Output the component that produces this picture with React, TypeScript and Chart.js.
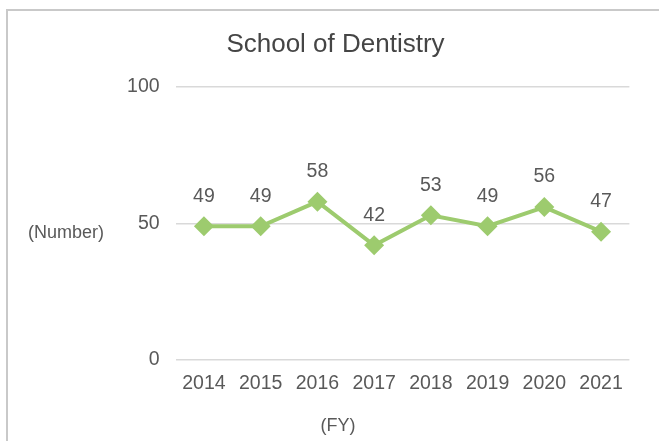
import React, { useEffect, useRef } from "react";
import { Chart, registerables } from "chart.js";

Chart.register(...registerables);

const title = "School of Dentistry";
const categories = ["2014", "2015", "2016", "2017", "2018", "2019", "2020", "2021"];
const values = [49, 49, 58, 42, 53, 49, 56, 47];
const yTicks = [0, 50, 100];
const yAxisTitle = "(Number)";
const xAxisTitle = "(FY)";

const FONT = "'Liberation Sans', Arial, sans-serif";
const TEXT = "#595959";
const GREEN = "#9dcb6e";

export default function App() {
  const ref = useRef<HTMLCanvasElement | null>(null);

  useEffect(() => {
    const canvas = ref.current;
    if (!canvas) return;
    const textPlugin = {
      id: "texts",
      afterDatasetsDraw(chart: any) {
        const ctx = chart.ctx;
        const meta = chart.getDatasetMeta(0);
        ctx.save();
        ctx.fillStyle = TEXT;
        ctx.textAlign = "center";
        ctx.textBaseline = "middle";
        ctx.font = `19.5px ${FONT}`;
        meta.data.forEach((pt: any, i: number) => {
          ctx.fillText(String(values[i]), pt.x, pt.y - 30);
        });
        ctx.font = `18px ${FONT}`;
        ctx.fillText(yAxisTitle, 66, 233);
        ctx.fillText(xAxisTitle, 338, 426);
        ctx.fillStyle = "#454545";
        ctx.font = `26px ${FONT}`;
        ctx.fillText(title, 335.5, 45);
        ctx.restore();
      },
    };
    const chart = new Chart(canvas, {
      type: "line",
      data: {
        labels: categories,
        datasets: [
          {
            data: values,
            borderColor: GREEN,
            backgroundColor: GREEN,
            borderWidth: 4,
            pointStyle: "rectRot",
            pointRadius: 10,
            pointHoverRadius: 10,
            pointBackgroundColor: GREEN,
            pointBorderColor: GREEN,
            pointBorderWidth: 0,
            tension: 0,
          },
        ],
      },
      options: {
        responsive: false,
        animation: false,
        layout: { padding: { left: 0, right: 29.6, top: 87, bottom: 0 } },
        plugins: { legend: { display: false }, tooltip: { enabled: false }, title: { display: false } },
        scales: {
          x: {
            offset: true,
            grid: { display: false, drawTicks: false },
            border: { display: false },
            ticks: { color: TEXT, font: { family: FONT, size: 19.5 }, padding: 12, maxRotation: 0, autoSkip: false },
            afterFit(scale: any) {
              scale.height = 81;
            },
          },
          y: {
            min: 0,
            max: 100,
            afterBuildTicks(scale: any) {
              scale.ticks = yTicks.map((v) => ({ value: v }));
            },
            grid: { color: "#d9d9d9", lineWidth: 1.5, drawTicks: false },
            border: { display: false },
            ticks: { color: TEXT, font: { family: FONT, size: 19.5 }, padding: 16 },
            afterFit(scale: any) {
              scale.width = 175.6;
            },
          },
        },
      },
      plugins: [textPlugin],
    });
    return () => chart.destroy();
  }, []);

  return (
    <div style={{ position: "fixed", left: 0, top: 0, width: 659, height: 441, background: "#fff" }}>
      <div
        style={{
          position: "absolute",
          left: 6,
          top: 9,
          right: -10,
          bottom: -10,
          borderTop: "2px solid #c9c9c9",
          borderLeft: "2px solid #c9c9c9",
        }}
      />
      <canvas ref={ref} width={659} height={441} style={{ position: "absolute", left: 0, top: 0 }} />
    </div>
  );
}
